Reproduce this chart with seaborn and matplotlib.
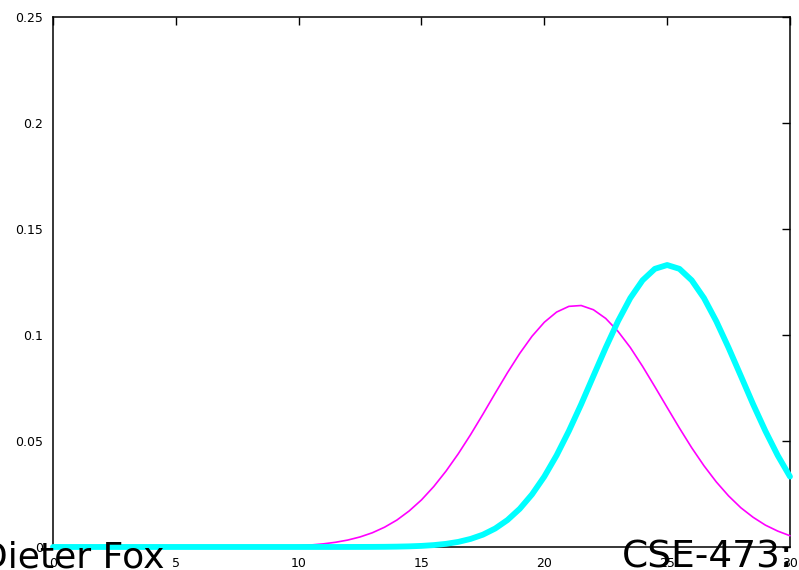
import matplotlib
matplotlib.use("Agg")
import matplotlib.pyplot as plt
import seaborn as sns
import pandas as pd

x_vals = [i / 2 for i in range(61)]
magenta_vals = [0, 0, 0, 0, 0, 0, 0, 0, 0, 0, 0, 0, 0, 0,
                0.00001, 0.00003, 0.00008, 0.00014, 0.00023, 0.00038,
                0.0006, 0.00095, 0.00146, 0.00221, 0.00326, 0.00473,
                0.0067, 0.00934, 0.0127, 0.0170, 0.0222, 0.0285,
                0.0358, 0.0440, 0.0530, 0.0626, 0.0725, 0.0822,
                0.0913, 0.0994, 0.1060, 0.1108, 0.1135, 0.1139,
                0.1119, 0.1078, 0.1017, 0.0941, 0.0852, 0.0756,
                0.0658, 0.0561, 0.0468, 0.0383, 0.0307, 0.0241,
                0.0185, 0.0140, 0.0103, 0.0075, 0.0053]
cyan_vals = [0, 0, 0, 0, 0, 0, 0, 0, 0, 0, 0, 0,
             0, 0, 0, 0, 0, 0, 0, 0, 0, 0, 0, 0,
             0.00001, 0.00002, 0.00004, 0.00008, 0.00016, 0.00029,
             0.00051, 0.00088, 0.00148, 0.0024, 0.0038, 0.0058,
             0.0087, 0.0127, 0.0180, 0.0248, 0.0332, 0.0432,
             0.0547, 0.0673, 0.0807, 0.0940, 0.1065, 0.1174,
             0.1258, 0.1312, 0.1330, 0.1312, 0.1258, 0.1174,
             0.1065, 0.0940, 0.0807, 0.0673, 0.0547, 0.0432, 0.0332]
series_names = ["prior", "posterior"]
x_ticks = [0, 5, 10, 15, 20, 25, 30]
y_ticks = [0, 0.05, 0.1, 0.15, 0.2, 0.25]
y_tick_labels = ["0", "0.05", "0.1", "0.15", "0.2", "0.25"]
overlay_left = "Dieter Fox"
overlay_right = "CSE-473:"

df = pd.DataFrame({
    "x": x_vals + x_vals,
    "y": magenta_vals + cyan_vals,
    "series": [series_names[0]] * len(x_vals) + [series_names[1]] * len(x_vals),
})

sns.set_style("white")
plt.rcParams["font.family"] = ["DejaVu Sans"]

fig = plt.figure(figsize=(7.99, 5.70), dpi=100)
ax = fig.add_axes([0.0663, 0.0404, 0.9224, 0.9298])

sns.lineplot(data=df[df.series == series_names[0]], x="x", y="y",
             color="#FF00FF", linewidth=1.2, ax=ax, legend=False)
sns.lineplot(data=df[df.series == series_names[1]], x="x", y="y",
             color="#00FFFF", linewidth=4.2, ax=ax, legend=False)
for ln in ax.lines:
    ln.set_clip_on(False)

ax.set_xlim(0, 30)
ax.set_ylim(0, 0.25)
ax.set_xticks(x_ticks)
ax.set_xticklabels([str(t) for t in x_ticks])
ax.set_yticks(y_ticks)
ax.set_yticklabels(y_tick_labels)
ax.set_xlabel("")
ax.set_ylabel("")
ax.tick_params(direction="in", length=5.5, width=1.0, colors="black",
               labelsize=9, top=True, right=True, labeltop=False,
               labelright=False)
ax.tick_params(axis="x", pad=7)
ax.tick_params(axis="y", pad=7)
for sp in ax.spines.values():
    sp.set_visible(True)
    sp.set_color("black")
    sp.set_linewidth(1.1)
    sp.set_zorder(0)

fig.text(-20 / 799, 3 / 570, overlay_left, fontsize=26, ha="left",
         va="baseline", color="black")
fig.text(793 / 799, 3 / 570, overlay_right, fontsize=27, ha="right",
         va="baseline", color="black")

fig.savefig("out.png", dpi=100)
